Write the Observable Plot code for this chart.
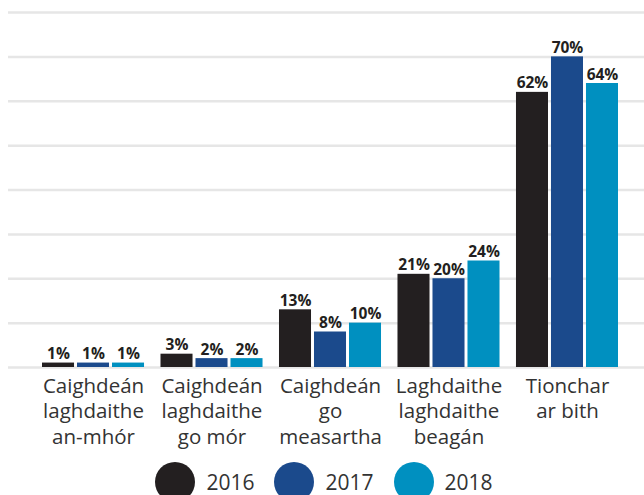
<!DOCTYPE html>
<html>
<head>
<meta charset="utf-8">
<script src="https://cdn.jsdelivr.net/npm/d3@7"></script>
<script src="https://cdn.jsdelivr.net/npm/@observablehq/plot@0.6"></script>
<style>
  html, body { margin: 0; padding: 0; background: #fff; }
  body { width: 644px; height: 495px; overflow: hidden; font-family: "Open Sans", sans-serif; }
  #legend { display: flex; justify-content: center; align-items: center; gap: 0; margin-top: 4px; padding-left: 4px; }
  .item { display: flex; align-items: center; margin: 0 10px; }
  .sw { width: 40px; height: 40px; border-radius: 50%; margin-right: 11px; }
  .lab { font-size: 21px; color: #333; line-height: 40px; }
</style>
</head>
<body>
<div id="chart"></div>
<div id="legend"></div>
<script>
const categories = ["Caighdeán laghdaithe an-mhór", "Caighdeán laghdaithe go mór", "Caighdeán go measartha", "Laghdaithe laghdaithe beagán", "Tionchar ar bith"];
const tickLabels = ["Caighdeán\nlaghdaithe\nan-mhór", "Caighdeán\nlaghdaithe\ngo mór", "Caighdeán\ngo\nmeasartha", "Laghdaithe\nlaghdaithe\nbeagán", "Tionchar\nar bith"];
const years = ["2016", "2017", "2018"];
const values2016 = [1, 3, 13, 21, 62];
const values2017 = [1, 2, 8, 20, 70];
const values2018 = [1, 2, 10, 24, 64];
const colors = ["#231f20", "#1b4a8c", "#0090c0"];
const yTicks = [0, 10, 20, 30, 40, 50, 60, 70, 80];

const series = [values2016, values2017, values2018];
const data = [];
years.forEach((y, j) => categories.forEach((c, i) => data.push({cat: c, year: y, value: series[j][i]})));

const barW = 32, gap = 3;
const marks = [
  Plot.ruleY(yTicks, {stroke: "#e6e6e6", strokeWidth: 2.5})
];
years.forEach((yr, j) => {
  const d = data.filter(r => r.year === yr);
  const left = j * (barW + gap);
  const right = (2 - j) * (barW + gap);
  marks.push(Plot.barY(d, {x: "cat", y: "value", fill: colors[j], insetLeft: left, insetRight: right}));
  marks.push(Plot.text(d, {x: "cat", y: "value", text: r => r.value + "%", dx: (j - 1) * (barW + gap), dy: -4, lineAnchor: "bottom", fontWeight: "bold", fontSize: 15.5, fill: "#231f20"}));
});
marks.push(Plot.axisX({tickSize: 0, tickPadding: 7, fontSize: 20.5, lineHeight: 1.25, fill: "#333",
  tickFormat: c => tickLabels[categories.indexOf(c)]}));

const chart = Plot.plot({
  width: 644,
  height: 458,
  marginLeft: 8,
  marginRight: 0,
  marginTop: 12,
  marginBottom: 91,
  style: {fontFamily: "'Open Sans', sans-serif", background: "#fff"},
  x: {domain: categories, paddingInner: 0.139, paddingOuter: 0, insetLeft: 34, insetRight: 26, round: false, label: null},
  y: {domain: [0, 80], axis: null},
  marks
});
document.getElementById("chart").appendChild(chart);

const legend = document.getElementById("legend");
years.forEach((y, j) => {
  const it = document.createElement("div");
  it.className = "item";
  it.innerHTML = `<div class="sw" style="background:${colors[j]}"></div><span class="lab">${y}</span>`;
  legend.appendChild(it);
});
</script>
</body>
</html>
